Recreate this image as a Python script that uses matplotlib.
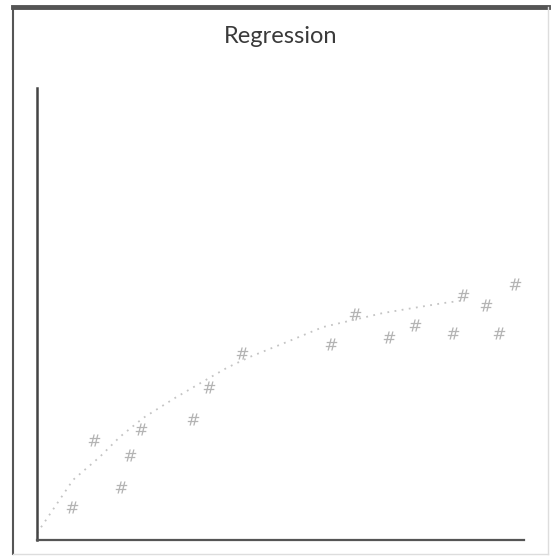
import matplotlib
matplotlib.use("Agg")
import matplotlib.pyplot as plt
from matplotlib.lines import Line2D

# Datos de dispersion
x_points = [0.72, 1.17, 1.72, 1.91, 2.14, 3.20, 3.53, 4.21, 6.04, 6.53,
            7.23, 7.76, 8.54, 8.75, 9.22, 9.49, 9.82]
y_points = [0.73, 2.21, 1.17, 1.88, 2.46, 2.68, 3.38, 4.14, 4.34, 5.00,
            4.49, 4.76, 4.58, 5.42, 5.20, 4.58, 5.66]

# Curva de regresion
curve_x = [0.0, 0.74, 1.29, 1.70, 2.18, 2.83, 3.29, 3.90, 4.37, 5.13,
           5.87, 7.10, 7.60, 8.34, 8.69]
curve_y = [0.15, 1.33, 1.84, 2.28, 2.70, 3.14, 3.43, 3.81, 4.05, 4.38,
           4.71, 5.02, 5.11, 5.24, 5.29]

title_text = "Regression"

plt.rcParams['font.family'] = ['Lato', 'DejaVu Sans']

fig = plt.figure(figsize=(5.55, 5.6), dpi=100)
fig.patch.set_facecolor("white")

# marco exterior
fig.add_artist(Line2D([0.023, 0.987], [0.9875, 0.9875], transform=fig.transFigure,
                      color="#555555", lw=3.5))
fig.add_artist(Line2D([0.023, 0.023], [0.011, 0.9875], transform=fig.transFigure,
                      color="#555555", lw=1.5))
fig.add_artist(Line2D([0.987, 0.987], [0.011, 0.9875], transform=fig.transFigure,
                      color="#dddddd", lw=1.0))
fig.add_artist(Line2D([0.023, 0.987], [0.011, 0.011], transform=fig.transFigure,
                      color="#dddddd", lw=1.0))

ax = fig.add_axes([0.0667, 0.0357, 0.8775, 0.8073])
ax.set_xlim(0, 10)
ax.set_ylim(0, 10)

ax.plot(curve_x, curve_y, linestyle=(0, (1, 3)), color="#c4c4c4", lw=1.3)
ax.scatter(x_points, y_points, marker="$\\#$", s=75, color="#b4b4b4", linewidths=0)

for s in ["top", "right"]:
    ax.spines[s].set_visible(False)
ax.spines["left"].set_color("#444444")
ax.spines["bottom"].set_color("#555555")
ax.spines["left"].set_linewidth(1.8)
ax.spines["bottom"].set_linewidth(1.6)
ax.set_xticks([])
ax.set_yticks([])

fig.text(0.505, 0.935, title_text, ha="center", va="center", fontsize=17,
         color="#3a3a3a")

fig.savefig("out.png", dpi=100)
